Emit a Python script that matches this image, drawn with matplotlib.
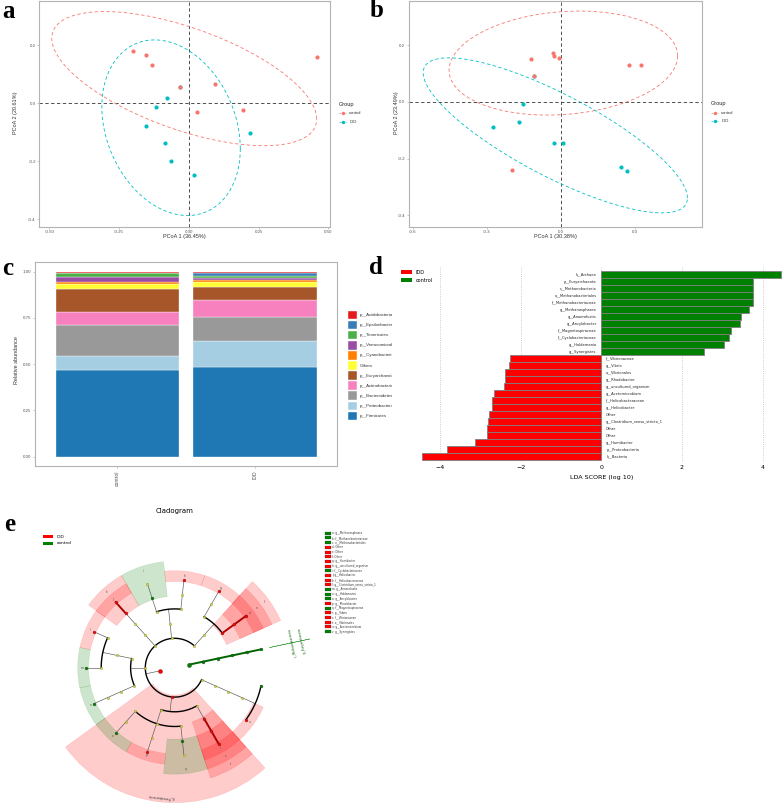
import numpy as np
import matplotlib
matplotlib.use("Agg")
import matplotlib.pyplot as plt
from matplotlib.patches import Rectangle, Wedge

# ======================= DATA =======================
# (a) PCoA, panel a
a_control_x = [-0.200, -0.152, -0.133, -0.032, 0.093, 0.031, 0.195, 0.458]
a_control_y = [0.178, 0.167, 0.130, 0.055, 0.067, -0.032, -0.025, 0.157]
a_idd_x = [-0.080, -0.116, -0.155, -0.086, -0.063, 0.018, 0.221, -0.032]
a_idd_y = [0.017, -0.013, -0.078, -0.139, -0.198, -0.249, -0.103, 0.055]
a_xlabel = "PCoA 1 (36.45%)"
a_ylabel = "PCoA 2 (20.61%)"

# (b) PCoA, panel b (one IDD sample hidden under a control sample)
b_control_x = [-0.120, -0.111, -0.031, -0.030, -0.009, 0.276, 0.325, -0.198]
b_control_y = [0.153, 0.091, 0.172, 0.164, 0.157, 0.131, 0.131, -0.241]
b_idd_x = [-0.111, -0.155, -0.274, -0.169, -0.028, 0.007, 0.244, 0.268]
b_idd_y = [0.091, -0.007, -0.087, -0.070, -0.145, -0.145, -0.229, -0.244]
b_xlabel = "PCoA 1 (30.38%)"
b_ylabel = "PCoA 2 (23.49%)"

# (c) relative abundance (bottom -> top)
c_groups = ["control", "IDD"]
c_taxa = ["p__Firmicutes", "p__Proteobacteria", "p__Bacteroidetes", "p__Actinobacteria",
          "p__Euryarchaeota", "Others", "p__Cyanobacteria", "p__Verrucomicrobia",
          "p__Tenericutes", "p__Epsilonbacteraeota", "p__Acidobacteria"]
c_control = [0.468, 0.077, 0.169, 0.070, 0.124, 0.024, 0.014, 0.024, 0.020, 0.003, 0.007]
c_idd = [0.487, 0.139, 0.128, 0.093, 0.070, 0.024, 0.014, 0.008, 0.013, 0.014, 0.010]
c_colors = ["#1F78B4", "#A6CEE3", "#999999", "#F781BF", "#A65628", "#FFFF33",
            "#FF7F00", "#984EA3", "#4DAF4A", "#377EB8", "#E41A1C"]

# (d) LDA scores (top -> bottom)
d_taxa = ["k__Archaea", "p__Euryarchaeota", "c__Methanobacteria", "o__Methanobacteriales",
          "f__Methanobacteriaceae", "g__Methanosphaera", "g__Anaerofustis", "g__Ancylobacter",
          "f__Magnetospiraceae", "f__Cyclobacteriaceae", "g__Holdemania", "g__Synergistes",
          "f__Vibrionaceae", "g__Vibrio", "o__Vibrionales", "g__Rhodobacter",
          "g__uncultured_organism", "g__Acetomicrobium", "f__Helicobacteraceae", "g__Helicobacter",
          "Other", "g__Clostridium_sensu_stricto_1", "Other", "Other", "g__Humibacter",
          "p__Proteobacteria", "k__Bacteria"]
d_lda = [4.45, 3.76, 3.76, 3.76, 3.76, 3.66, 3.46, 3.44, 3.21, 3.17, 3.05, 2.55,
         -2.26, -2.29, -2.38, -2.38, -2.42, -2.66, -2.70, -2.71, -2.79, -2.80, -2.83, -2.83,
         -3.13, -3.84, -4.46]
d_ticks = [-4, -2, 0, 2, 4]

# (e) cladogram: lineages in circular order
e_lineages = [
    "k__Archaea|p__Euryarchaeota|c__Methanobacteria|o__Methanobacteriales|f__Methanobacteriaceae|g__Methanosphaera",
    "k__Bacteria|p__Actinobacteria|c__Actinobacteria|Other|Other|Other",
    "k__Bacteria|p__Actinobacteria|c__Actinobacteria|o__Micrococcales|f__Microbacteriaceae|g__Humibacter",
    "k__Bacteria|p__Bacteroidetes|c__Bacteroidia|o__Bacteroidales|f__Marinilabiliaceae|g__uncultured_organism",
    "k__Bacteria|p__Bacteroidetes|c__Bacteroidia|o__Cytophagales|f__Cyclobacteriaceae|g__uncultured",
    "k__Bacteria|p__Epsilonbacteraeota|c__Campylobacteria|o__Campylobacterales|f__Helicobacteraceae|g__Helicobacter",
    "k__Bacteria|p__Firmicutes|c__Clostridia|o__Clostridiales|f__Clostridiaceae_1|g__Clostridium_sensu_stricto_1",
    "k__Bacteria|p__Firmicutes|c__Clostridia|o__Clostridiales|f__Eubacteriaceae|g__Anaerofustis",
    "k__Bacteria|p__Firmicutes|c__Erysipelotrichia|o__Erysipelotrichales|f__Erysipelotrichaceae|g__Holdemania",
    "k__Bacteria|p__Proteobacteria|c__Alphaproteobacteria|o__Rhizobiales|f__Xanthobacteraceae|g__Ancylobacter",
    "k__Bacteria|p__Proteobacteria|c__Alphaproteobacteria|o__Rhodobacterales|f__Rhodobacteraceae|g__Rhodobacter",
    "k__Bacteria|p__Proteobacteria|c__Alphaproteobacteria|o__Rhodospirillales|f__Magnetospiraceae|g__Magnetospira",
    "k__Bacteria|p__Proteobacteria|c__Gammaproteobacteria|o__Vibrionales|f__Vibrionaceae|g__Vibrio",
    "k__Bacteria|p__Synergistetes|c__Synergistia|o__Synergistales|f__Synergistaceae|g__Acetomicrobium",
    "k__Bacteria|p__Synergistetes|c__Synergistia|o__Synergistales|f__Synergistaceae|g__Synergistes",
]
# (letter, level, taxon, group)
e_markers = [
    ("a", 6, "g__Methanosphaera", "control"), ("b", 5, "f__Methanobacteriaceae", "control"),
    ("c", 4, "o__Methanobacteriales", "control"), ("d", 6, "Other", "IDD"),
    ("e", 5, "Other", "IDD"), ("f", 4, "Other", "IDD"),
    ("g", 6, "g__Humibacter", "IDD"), ("h", 6, "g__uncultured_organism", "IDD"),
    ("i", 5, "f__Cyclobacteriaceae", "control"), ("j", 6, "g__Helicobacter", "IDD"),
    ("k", 5, "f__Helicobacteraceae", "IDD"), ("l", 6, "g__Clostridium_sensu_stricto_1", "IDD"),
    ("m", 6, "g__Anaerofustis", "control"), ("n", 6, "g__Holdemania", "control"),
    ("o", 6, "g__Ancylobacter", "control"), ("p", 6, "g__Rhodobacter", "IDD"),
    ("q", 5, "f__Magnetospiraceae", "control"), ("r", 6, "g__Vibrio", "IDD"),
    ("s", 5, "f__Vibrionaceae", "IDD"), ("t", 4, "o__Vibrionales", "IDD"),
    ("u", 6, "g__Acetomicrobium", "IDD"), ("v", 6, "g__Synergistes", "control"),
]
e_markers_unlettered = [
    (1, "k__Archaea", "control"), (2, "p__Euryarchaeota", "control"),
    (3, "c__Methanobacteria", "control"), (1, "k__Bacteria", "IDD"),
    (2, "p__Proteobacteria", "IDD"),
]
e_unshaded = {"k__Archaea", "p__Euryarchaeota", "c__Methanobacteria", "o__Methanobacteriales",
              "f__Methanobacteriaceae", "g__Methanosphaera", "g__Synergistes",
              "k__Bacteria"}

# ======================= FIGURE =======================
W, H = 784, 805
fig = plt.figure(figsize=(W / 100, H / 100), dpi=100)
plt.rcParams['font.family'] = ['DejaVu Sans']
GG = 'Liberation Sans'
CTRL = '#F8766D'
IDDC = '#00BFC4'


def add_ax(l, t, r, b):
    return fig.add_axes([l / W, 1 - b / H, (r - l) / W, (b - t) / H])


ov = add_ax(0, 0, W, H)
ov.set_xlim(0, W)
ov.set_ylim(H, 0)
ov.axis('off')
ov.set_zorder(10)


def trob_ellipse(x, y, level=0.95, nu=5, seg=200):
    X = np.column_stack([x, y]).astype(float)
    n, p = X.shape
    loc = X.mean(0)
    w = np.ones(n)
    for _ in range(25):
        w0 = w
        Xc = X - loc
        A = np.sqrt(w / w.sum())[:, None] * Xc
        _, d, Vt = np.linalg.svd(A, full_matrices=False)
        wX = Xc @ Vt.T @ np.diag(1 / d)
        Q = (wX ** 2).sum(1)
        w = (nu + p) / (nu + Q)
        loc = (w[:, None] * X).sum(0) / w.sum()
        if np.all(np.abs(w - w0) < 0.01):
            break
    B = np.sqrt(w)[:, None] * Xc
    cov = B.T @ B / n
    dfd = n - 1
    qf = dfd / 2.0 * ((1 - level) ** (-2.0 / dfd) - 1)
    radius = np.sqrt(2 * qf)
    L = np.linalg.cholesky(cov)
    t = np.linspace(0, 2 * np.pi, seg + 1)
    circ = np.column_stack([np.cos(t), np.sin(t)])
    pts = loc + radius * circ @ L.T
    return pts[:, 0], pts[:, 1]


def pcoa(box, cx, cy, ix, iy, xlim, ylim, xt, xtl, yt, ytl, xlab, ylab, xlab_xy, ylab_xy, leg_xy):
    ax = add_ax(*box)
    ax.set_xlim(xlim)
    ax.set_ylim(ylim)
    for xs, ys, col in ((cx, cy, CTRL), (ix, iy, IDDC)):
        ex, ey = trob_ellipse(xs, ys)
        ax.plot(ex, ey, color=col, lw=0.6, ls=(0, (4, 3)), zorder=2)
    ax.axhline(0, color='#333333', lw=0.6, ls=(0, (4, 3)), zorder=1)
    ax.axvline(0, color='#333333', lw=0.6, ls=(0, (4, 3)), zorder=1)
    ax.scatter(ix, iy, s=9, color=IDDC, lw=0, zorder=3)
    ax.scatter(cx, cy, s=9, color=CTRL, lw=0, zorder=3)
    ax.set_xticks(xt)
    ax.set_xticklabels(xtl)
    ax.set_yticks(yt)
    ax.set_yticklabels(ytl)
    ax.tick_params(labelsize=3.2, colors='#b0b0b0', labelcolor='#555555', length=1.5, width=0.5, pad=1)
    for lab in ax.get_xticklabels() + ax.get_yticklabels():
        lab.set_family(GG)
    for s in ax.spines.values():
        s.set_color('#b3b3b3')
        s.set_linewidth(0.8)
    ov.text(*xlab_xy, xlab, fontsize=4, ha='center', va='center', family=GG, color='#333333')
    ov.text(*ylab_xy, ylab, fontsize=4, ha='center', va='center', rotation=90, family=GG, color='#333333')
    lx, ly = leg_xy
    ov.text(lx, ly, "Group", fontsize=4, ha='left', va='center', family=GG, color='#222222')
    for k, (name, col) in enumerate((("control", CTRL), ("IDD", IDDC))):
        yy = ly + 9 + 8.5 * k
        ov.plot([lx + 1, lx + 8], [yy, yy], color=col, lw=0.5, ls=(0, (2, 1)))
        ov.scatter([lx + 4.5], [yy], s=6, color=col, lw=0)
        ov.text(lx + 11, yy, name, fontsize=3.1, ha='left', va='center', family=GG, color='#333333')
    return ax


pcoa((39.3, 1, 330, 226.7), a_control_x, a_control_y, a_idd_x, a_idd_y,
     (-0.536, 0.506), (-0.4255, 0.3515),
     [-0.5, -0.25, 0, 0.25, 0.5], ["-0.50", "-0.25", "0.00", "0.25", "0.50"],
     [-0.4, -0.2, 0, 0.2], ["-0.4", "-0.2", "0.0", "0.2"],
     a_xlabel, a_ylabel, (184.7, 236), (15.5, 113), (338.3, 104.3))

pcoa((408.7, 1, 702, 227), b_control_x, b_control_y, b_idd_x, b_idd_y,
     (-0.616, 0.570), (-0.442, 0.357),
     [-0.6, -0.3, 0, 0.3], ["-0.6", "-0.3", "0.0", "0.3"],
     [-0.4, -0.2, 0, 0.2], ["-0.4", "-0.2", "0.0", "0.2"],
     b_xlabel, b_ylabel, (555.3, 236), (397, 113), (710.3, 104))

# ---------------- panel c ----------------
axc = add_ax(35, 262.3, 337.3, 466)
vals = np.array([c_control, c_idd])
bottom = np.zeros(2)
xpos = np.arange(1, len(c_groups) + 1)
for j, col in enumerate(c_colors):
    axc.bar(xpos, vals[:, j], width=0.9, bottom=bottom, color=col, edgecolor='white', lw=0.25)
    bottom += vals[:, j]
axc.set_xlim(0.4, 2.6)
axc.set_ylim(-0.05, 1.05)
axc.set_xticks(xpos)
axc.set_xticklabels(c_groups, rotation=90, va='top', ha='center')
axc.set_yticks([0, 0.25, 0.5, 0.75, 1.0])
axc.set_yticklabels(["0.00", "0.25", "0.50", "0.75", "1.00"])
axc.tick_params(labelsize=3.2, colors='#b0b0b0', labelcolor='#555555', length=1.5, width=0.5, pad=1.5)
axc.tick_params(axis='x', labelsize=3.6)
for lab in axc.get_xticklabels() + axc.get_yticklabels():
    lab.set_family(GG)
for s in axc.spines.values():
    s.set_color('#b3b3b3')
    s.set_linewidth(0.8)
ov.text(16.7, 360, "Relative abundance", fontsize=3.9, rotation=90, ha='center', va='center',
        family=GG, color='#333333')

axl = add_ax(345, 305, 392, 425)
axl.set_xlim(345, 392)
axl.set_ylim(425, 305)
axl.axis('off')
for k, (name, col) in enumerate(zip(c_taxa[::-1], c_colors[::-1])):
    yy = 315 + 10.1 * k
    axl.add_patch(Rectangle((348, yy - 4.3), 8.8, 8.6, facecolor=col, edgecolor='white', lw=0.3))
    axl.text(359.5, yy, name, fontsize=3.2, ha='left', va='center', family=GG, color='#333333',
             clip_on=True)

# ---------------- panel d ----------------
axd = add_ax(396, 267, 784, 462)
yy = np.arange(len(d_taxa))
d_cols = ['#008000' if v > 0 else '#FF0000' for v in d_lda]
axd.barh(yy, d_lda, height=0.92, color=d_cols, edgecolor='#7f7f7f', lw=0.6, zorder=2)
for i, (t, v) in enumerate(zip(d_taxa, d_lda)):
    if v > 0:
        axd.text(-0.12, i, t, fontsize=2.6, ha='right', va='center', color='#222222')
    else:
        axd.text(0.12, i, t, fontsize=2.6, ha='left', va='center', color='#222222')
axd.set_xlim(-5.094, 4.533)
axd.set_ylim(26.76, -1.1)
axd.set_xticks(d_ticks)
axd.set_yticks([])
axd.tick_params(axis='x', length=0, labelsize=4.5, pad=2)
axd.grid(axis='x', ls=':', color='#bbbbbb', lw=0.6, zorder=0)
for s in axd.spines.values():
    s.set_visible(False)
ov.text(601.3, 477.5, "LDA SCORE (log 10)", fontsize=4.6, ha='center', va='center')
ov.add_patch(Rectangle((401.3, 270), 10.7, 4, facecolor='#FF0000', edgecolor='none'))
ov.add_patch(Rectangle((401.3, 278), 10.7, 4, facecolor='#008000', edgecolor='none'))
ov.text(415.5, 272, "IDD", fontsize=3.5, ha='left', va='center')
ov.text(415.5, 280, "control", fontsize=3.5, ha='left', va='center')

# ---------------- panel e (cladogram) ----------------
CX, CY = 174.7, 667.7
axe = add_ax(0, 510, 392, 805)
axe.set_xlim(-CX, 392 - CX)
axe.set_ylim(-(805 - CY), CY - 510)
axe.axis('off')

GRP_COL = {'IDD': '#FF0000', 'control': '#008000'}
GRP_DARK = {'IDD': '#b00000', 'control': '#006400'}
RING = 14.7
STEP = 360.0 / len(e_lineages)
START = 12.0


def outer(L):
    return 97 + (6 - L) * 9.5


def pol(r, a):
    t = np.deg2rad(a)
    return r * np.cos(t), r * np.sin(t)


nodes, order = {}, []
for i, lin in enumerate(e_lineages):
    parts = lin.split('|')
    for L in range(1, len(parts) + 1):
        key = '|'.join(parts[:L])
        if key not in nodes:
            nodes[key] = dict(name=parts[L - 1], level=L, angs=[],
                              parent='|'.join(parts[:L - 1]) if L > 1 else None)
            order.append(key)
        nodes[key]['angs'].append(START + STEP * i)
for nd in nodes.values():
    nd['ang'] = float(np.mean(nd['angs']))
    nd['lo'] = min(nd['angs']) - STEP / 2
    nd['hi'] = max(nd['angs']) + STEP / 2
children = {k: [c for c in order if nodes[c]['parent'] == k] for k in order}

mgrp, mlet = {}, {}
for let, L, name, g in e_markers:
    mgrp[(L, name)] = g
    mlet[(L, name)] = let
for L, name, g in e_markers_unlettered:
    mgrp[(L, name)] = g


def grp_of(nd):
    return mgrp.get((nd['level'], nd['name']))


# shaded sectors
for k in order:
    nd = nodes[k]
    g = grp_of(nd)
    if g is None or nd['name'] in e_unshaded:
        continue
    L = nd['level']
    r_in = RING * L - 2
    ro = outer(L)
    axe.add_patch(Wedge((0, 0), ro, nd['lo'], nd['hi'], width=ro - r_in,
                        facecolor=GRP_COL[g], edgecolor=GRP_COL[g], alpha=0.2, lw=0.3, zorder=1))
    let = mlet.get((L, nd['name']))
    if let:
        tx, ty = pol(ro - 4.75, nd['ang'])
        axe.text(tx, ty, let, fontsize=2.2, ha='center', va='center', color='#555555', zorder=5)
    elif L in (2, 3):
        tx, ty = pol(ro - 5, nd['ang'])
        axe.text(tx, ty, nd['name'], fontsize=2.2, ha='center', va='center', color='#333333',
                 rotation=nd['ang'] - 90, zorder=5)

# Archaea side labels (unshaded high-level markers)
for k in order:
    nd = nodes[k]
    g = grp_of(nd)
    if g is None or nd['name'] not in e_unshaded or nd['level'] not in (2, 3):
        continue
    tx, ty = pol(outer(nd['level']) - 5, nd['ang'])
    axe.text(tx, ty, nd['name'], fontsize=2.2, ha='center', va='center', color=GRP_DARK[g],
             rotation=nd['ang'] + 90, zorder=5)
    x0, y0 = pol(outer(6), nd['ang'])
    x1, y1 = pol(outer(2) + 3, nd['ang'])
    axe.plot([x0, x1], [y0, y1], color=GRP_COL[g], lw=0.3, zorder=2)

# edges
for k in order:
    nd = nodes[k]
    ch = children[k]
    if not ch:
        continue
    r0 = RING * nd['level']
    r1 = RING * (nd['level'] + 1)
    g0 = grp_of(nd)
    if len(ch) == 1:
        g1 = grp_of(nodes[ch[0]])
        x0, y0 = pol(r0, nd['ang'])
        x1, y1 = pol(r1, nd['ang'])
        if g0 is not None and g0 == g1:
            axe.plot([x0, x1], [y0, y1], color=GRP_DARK[g0], lw=1.4, zorder=2)
        else:
            axe.plot([x0, x1], [y0, y1], color='#555555', lw=0.45, zorder=2)
    else:
        x0, y0 = pol(r0, nd['ang'])
        x1, y1 = pol(r1, nd['ang'])
        axe.plot([x0, x1], [y0, y1], color='#555555', lw=0.45, zorder=2)
        angs = [nodes[c]['ang'] for c in ch]
        aa = np.linspace(min(angs), max(angs), 200)
        ax_, ay_ = pol(r1, aa)
        axe.plot(ax_, ay_, color='black', lw=1.0, zorder=2)

# nodes
for k in order:
    nd = nodes[k]
    g = grp_of(nd)
    x, y = pol(RING * nd['level'], nd['ang'])
    if g is None:
        axe.scatter([x], [y], s=3, color='#d8d83a', edgecolor='#6b6b2a', lw=0.2, zorder=4)
    else:
        s = 9 if nd['level'] == 1 else 4.5
        axe.scatter([x], [y], s=s, color=GRP_COL[g], edgecolor='#333333', lw=0.2, zorder=4)

# cladogram title, legend
ov.text(175, 511, "Cladogram", fontsize=5, ha='center', va='center')
ov.add_patch(Rectangle((43.3, 535), 10, 3.3, facecolor='#FF0000', edgecolor='none'))
ov.add_patch(Rectangle((43.3, 541.7), 10, 3.3, facecolor='#008000', edgecolor='none'))
ov.text(56.7, 536.7, "IDD", fontsize=3.2, ha='left', va='center')
ov.text(56.7, 543.4, "control", fontsize=3.2, ha='left', va='center')
for j, (let, L, name, g) in enumerate(e_markers):
    y = 533.3 + 4.68 * j
    ov.add_patch(Rectangle((325, y - 1.5), 5.7, 3.0, facecolor=GRP_COL[g], edgecolor='#333333', lw=0.15))
    ov.text(332.3, y, f"{let}: {name}", fontsize=1.9, ha='left', va='center', color='#333333')

# panel letters
for lab, (x, y) in {"a": (8.3, 11.7), "b": (376.7, 10.8), "c": (7.5, 268),
                    "d": (376, 267.5), "e": (10, 524)}.items():
    ov.text(x, y, lab, fontsize=18, fontweight='bold', family='Liberation Serif',
            ha='center', va='center')

fig.savefig("out.png", dpi=100)
